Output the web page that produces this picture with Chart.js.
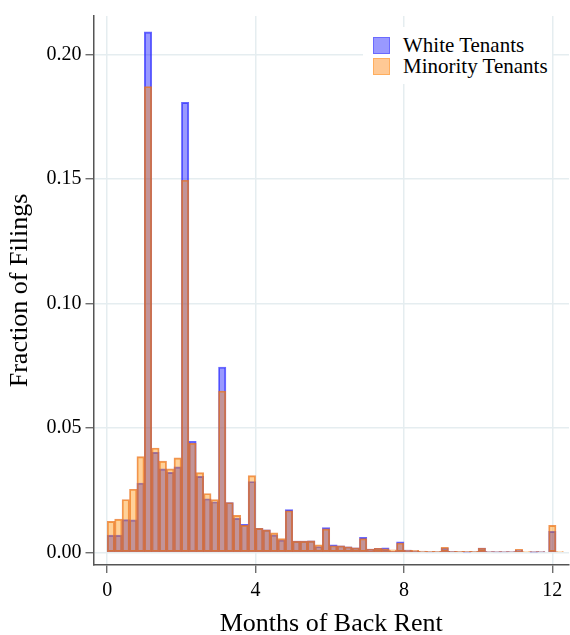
<!DOCTYPE html>
<html>
<head>
<meta charset="utf-8">
<script src="https://cdn.jsdelivr.net/npm/chart.js@4.4.1/dist/chart.umd.min.js"></script>
<style>
  body { margin: 0; background: #fff; }
  #wrap { position: relative; width: 570px; height: 635px; }
  #legend {
    position: absolute; left: 363px; top: 27px; width: 189px; height: 57px;
    background: #fff; font-family: "Liberation Serif", serif; font-size: 21px; color: #000;
  }
  .row { position: absolute; left: 10px; height: 21px; line-height: 21px; white-space: nowrap; }
  .sw { display: inline-block; width: 15px; height: 15px; vertical-align: -2px; margin-right: 13px; }
</style>
</head>
<body>
<div id="wrap">
  <canvas id="myChart" width="570" height="635"></canvas>
  <div id="legend">
    <div class="row" style="top:8px"><span class="sw" style="background:#9999ff;border:1.5px solid #6a6aff"></span>White Tenants</div>
    <div class="row" style="top:29px"><span class="sw" style="background:#ffc995;border:1.5px solid #ffae5e"></span>Minority Tenants</div>
  </div>
</div>
<script>
// bin centres (months of back rent), bins are 0.2 months wide
var binCenters = [0.1, 0.3, 0.5, 0.7, 0.9, 1.1, 1.3, 1.5, 1.7, 1.9,
    2.1, 2.3, 2.5, 2.7, 2.9, 3.1, 3.3, 3.5, 3.7, 3.9,
    4.1, 4.3, 4.5, 4.7, 4.9, 5.1, 5.3, 5.5, 5.7, 5.9,
    6.1, 6.3, 6.5, 6.7, 6.9, 7.1, 7.3, 7.5, 7.7, 7.9,
    8.1, 8.3, 8.5, 8.7, 8.9, 9.1, 9.3, 9.5, 9.7, 9.9,
    10.1, 10.3, 10.5, 10.7, 10.9, 11.1, 11.3, 11.5, 11.7, 12.0, 12.2];

var whiteTenants = [0.0069, 0.0069, 0.0131, 0.0130, 0.0278, 0.2090, 0.0402, 0.0335, 0.0321, 0.0343,
    0.1807, 0.0446, 0.0305, 0.0215, 0.0203, 0.0744, 0.0200, 0.0137, 0.0112, 0.0284,
    0.0096, 0.0090, 0.0070, 0.0050, 0.0172, 0.0045, 0.0045, 0.0046, 0.0023, 0.0099,
    0.0030, 0.0026, 0.0022, 0.0018, 0.0060, 0.0013, 0.0016, 0.0018, 0.0004, 0.0042,
    0.0009, 0.0006, 0.0003, 0.0002, 0.0003, 0.0017, 0.0004, 0.0003, 0.0001, 0.0003,
    0.0017, 0.0003, 0.0002, 0.0002, 0.0003, 0.0009, 0.0000, 0.0001, 0.0002, 0.0084, 0.0000];

var minorityTenants = [0.0124, 0.0133, 0.0212, 0.0253, 0.0384, 0.1871, 0.0419, 0.0366, 0.0335, 0.0379,
    0.1494, 0.0438, 0.0320, 0.0236, 0.0212, 0.0648, 0.0200, 0.0148, 0.0108, 0.0308,
    0.0096, 0.0090, 0.0078, 0.0055, 0.0167, 0.0045, 0.0045, 0.0046, 0.0030, 0.0094,
    0.0026, 0.0026, 0.0022, 0.0018, 0.0055, 0.0013, 0.0016, 0.0014, 0.0010, 0.0037,
    0.0009, 0.0008, 0.0005, 0.0004, 0.0004, 0.0020, 0.0004, 0.0004, 0.0004, 0.0004,
    0.0017, 0.0003, 0.0003, 0.0003, 0.0003, 0.0012, 0.0003, 0.0002, 0.0003, 0.0108, 0.0003];

var xTicks = [0, 4, 8, 12];
var yTicks = [0, 0.05, 0.10, 0.15, 0.20];

function toPoints(values) {
    var pts = [];
    for (var i = 0; i < binCenters.length; i++) {
        pts.push({ x: binCenters[i], y: values[i] });
    }
    return pts;
}

var serif = "'Liberation Serif', 'Times New Roman', serif";
var gridColor = '#e5edf0';
var axisColor = '#555';

var ctx = document.getElementById('myChart');
var myChart = new Chart(ctx, {
    type: 'bar',
    data: {
        datasets: [{
            label: 'White Tenants',
            data: toPoints(whiteTenants),
            backgroundColor: 'rgba(0,0,255,0.4)',
            borderColor: 'rgba(40,40,255,0.7)',
            borderWidth: 1.2,
            borderSkipped: false,
            grouped: false,
            order: 2
        }, {
            label: 'Minority Tenants',
            data: toPoints(minorityTenants),
            backgroundColor: 'rgba(255,140,0,0.4)',
            borderColor: 'rgba(235,115,30,0.75)',
            borderWidth: 1.2,
            borderSkipped: false,
            grouped: false,
            order: 1
        }]
    },
    options: {
        responsive: false,
        animation: false,
        devicePixelRatio: 1,
        barPercentage: 1,
        categoryPercentage: 1,
        layout: { padding: { top: 13, right: 1, left: 0, bottom: 0 } },
        plugins: {
            legend: { display: false },
            tooltip: { enabled: false }
        },
        scales: {
            x: {
                type: 'linear',
                min: -0.37,
                max: 12.45,
                offset: false,
                afterFit: function (s) { s.height = 70; },
                afterBuildTicks: function (s) {
                    s.ticks = xTicks.map(function (v) { return { value: v }; });
                },
                grid: {
                    offset: false,
                    color: gridColor, lineWidth: 1.5,
                    tickColor: axisColor, tickLength: 8, tickWidth: 1.2
                },
                border: { color: axisColor, width: 1.5 },
                ticks: {
                    color: '#000', padding: 6,
                    font: { family: serif, size: 20 },
                    maxRotation: 0,
                    autoSkip: false
                },
                title: {
                    display: true, text: 'Months of Back Rent', color: '#000',
                    font: { family: serif, size: 26, lineHeight: 0.8 },
                    padding: { top: 0, bottom: 0 }
                }
            },
            y: {
                type: 'linear',
                min: -0.0051,
                max: 0.2154,
                afterFit: function (s) { s.width = 93.5; },
                afterBuildTicks: function (s) {
                    s.ticks = yTicks.map(function (v) { return { value: v }; });
                },
                grid: {
                    color: gridColor, lineWidth: 1.5,
                    tickColor: axisColor, tickLength: 8, tickWidth: 1.2
                },
                border: { color: axisColor, width: 1.5 },
                ticks: {
                    color: '#000', padding: 4,
                    font: { family: serif, size: 20 },
                    callback: function (v) { return Number(v).toFixed(2); }
                },
                title: {
                    display: true, text: 'Fraction of Filings', color: '#000',
                    font: { family: serif, size: 26, lineHeight: 1 },
                    padding: { top: 7, bottom: 0 }
                }
            }
        }
    }
});
</script>
</body>
</html>
